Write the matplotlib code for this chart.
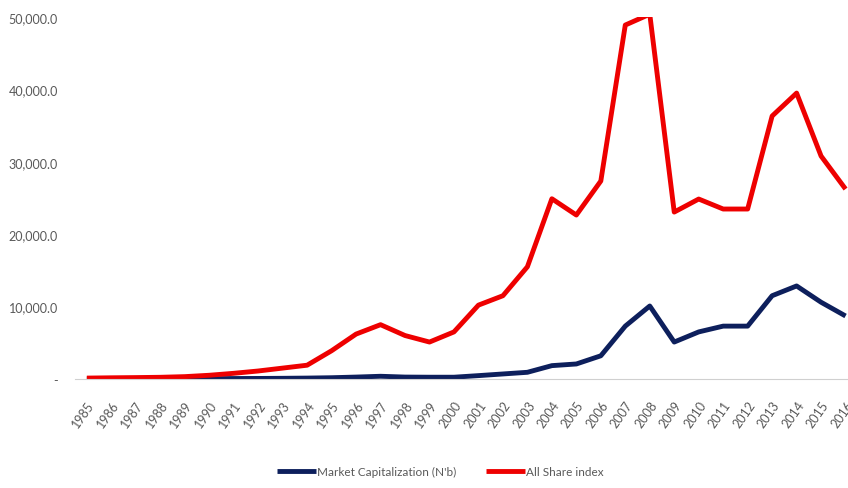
import matplotlib.pyplot as plt
from matplotlib.ticker import FuncFormatter

years = list(range(1985, 2017))
# Market Capitalization (N'b)
mcap = [10, 15, 20, 25, 30, 40, 60, 70, 90, 120, 170, 260, 370, 260, 240, 240,
        460, 690, 920, 1840, 2070, 3200, 7300, 10080, 5100, 6500, 7300, 7300,
        11500, 12850, 10600, 8700]
# All Share index
asi = [120, 160, 190, 230, 320, 510, 780, 1100, 1500, 1900, 3900, 6200, 7500,
       6000, 5100, 6500, 10200, 11500, 15500, 24900, 22650, 27350, 48900, 50400,
       23060, 24860, 23480, 23480, 36330, 39500, 30800, 26240]

plt.rcParams['font.family'] = ['Lato', 'DejaVu Sans']
grey = '#595959'

fig = plt.figure(figsize=(8.48, 4.89), dpi=100)
ax = fig.add_axes([0.088, 0.223, 0.912, 0.74])

x = range(len(years))
ax.plot(x, mcap, color='#0d1f5c', lw=3.5, label="Market Capitalization (N'b)", solid_capstyle='butt')
ax.plot(x, asi, color='#ee0000', lw=3.5, label='All Share index', solid_capstyle='butt')

ax.set_xlim(-0.5, 31.1)
ax.set_ylim(0, 50000)
ax.set_yticks(range(0, 50001, 10000))

def fmt(v, pos):
    if v == 0:
        return '-'
    return '{:,.1f}'.format(v)

ax.yaxis.set_major_formatter(FuncFormatter(fmt))
ax.set_xticks(list(x))
ax.set_xticklabels([str(y) for y in years], rotation=55, ha='right', rotation_mode='anchor')
ax.tick_params(axis='both', length=0, colors=grey, labelsize=9)
ax.tick_params(axis='y', pad=12)
ax.tick_params(axis='x', pad=14)

for s in ['top', 'right', 'left']:
    ax.spines[s].set_visible(False)
ax.spines['bottom'].set_color('#d0d0d0')

leg = fig.legend(loc='lower center', bbox_to_anchor=(0.519, 0.0), ncol=2, frameon=False,
                 fontsize=8.5, handlelength=3.3, handletextpad=0.1, columnspacing=2.5)
for t in leg.get_texts():
    t.set_color(grey)

fig.savefig('out.png', dpi=100)
